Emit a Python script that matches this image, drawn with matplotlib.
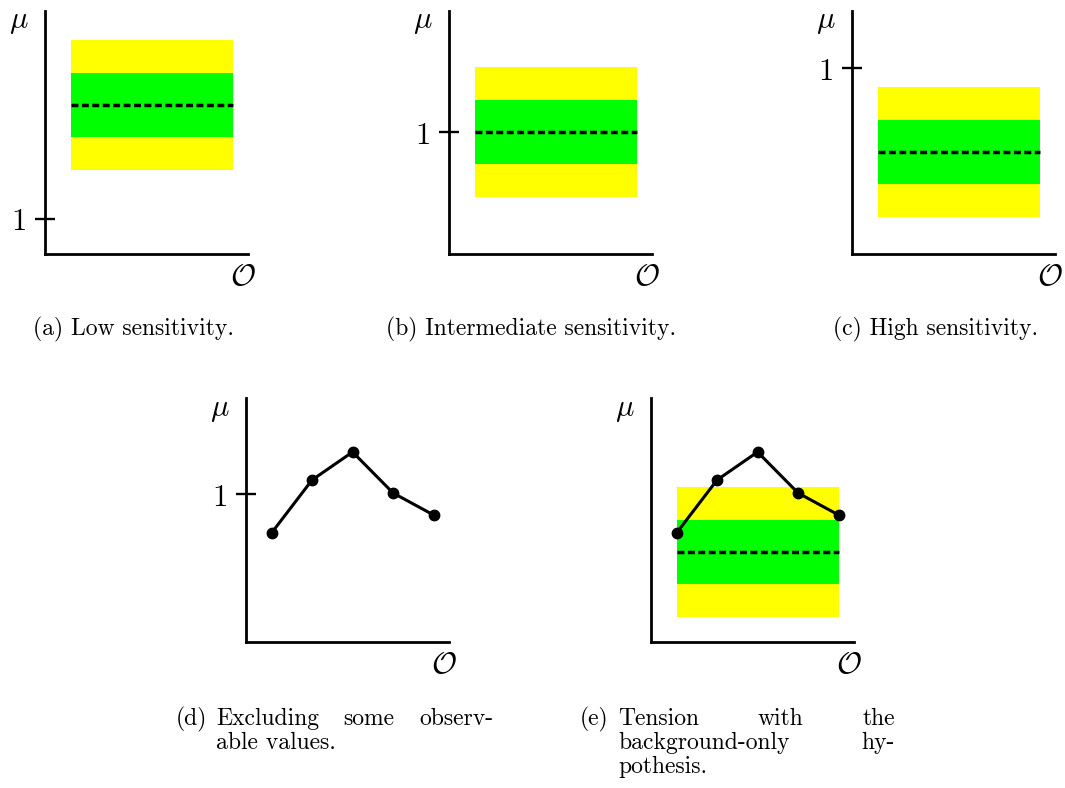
import matplotlib
matplotlib.use('Agg')
import matplotlib.pyplot as plt

plt.rcParams['mathtext.fontset'] = 'cm'

W, H = 1065, 788
PX_PER_UNIT = 200.0  # vertical scale shared by every panel

# observable bins and the expected-limit band (median, 1 sigma, 2 sigma)
obs = [1, 2, 3, 4, 5]
sig1 = 0.16
sig2 = 0.325
median_low = 1.57
median_mid = 1.0
median_high = 0.58
median_tension = 0.71

# observed limit in each bin
observed = [0.805, 1.07, 1.21, 1.005, 0.895]

captions_top = ['(a) Low sensitivity.', '(b) Intermediate sensitivity.', '(c) High sensitivity.']

fig = plt.figure(figsize=(W / 100, H / 100), dpi=100)


def make_axes(left, top, bottom, ylo, show_one=True):
    h = bottom - top
    ax = fig.add_axes([left / W, 1 - bottom / H, 203 / W, h / H])
    ax.set_xlim(0.37, 5.38)
    ax.set_ylim(ylo, ylo + h / PX_PER_UNIT)
    for s in ['top', 'right']:
        ax.spines[s].set_visible(False)
    for s in ['left', 'bottom']:
        ax.spines[s].set_linewidth(2.0)
    ax.set_xticks([])
    if show_one:
        ax.set_yticks([1])
        ax.set_yticklabels(['$1$'])
    else:
        ax.set_yticks([])
    ax.tick_params(axis='y', direction='inout', length=14, width=1.7,
                   labelsize=22, pad=7)
    ax.patch.set_alpha(0)
    ax.annotate(r'$\mu$', xy=(0, 1), xycoords='axes fraction', xytext=(-26, -11),
                textcoords='offset pixels', ha='center', va='center', fontsize=22)
    ax.annotate(r'$\mathcal{O}$', xy=(1, 0), xycoords='axes fraction', xytext=(-5, -23),
                textcoords='offset pixels', ha='center', va='center', fontsize=22)
    return ax


def draw_band(ax, median):
    ax.fill_between([obs[0], obs[-1]], median - sig2, median + sig2, color='#ffff00', lw=0)
    ax.fill_between([obs[0], obs[-1]], median - sig1, median + sig1, color='#00ff00', lw=0)
    ax.plot([obs[0], obs[-1]], [median, median], color='k', lw=2.5, ls=(0, (2.0, 1.0)))


def draw_observed(ax):
    ax.plot(obs, observed, color='k', lw=2.2, marker='o', ms=7.5, clip_on=False)


ax_a = make_axes(45, 11, 254, 0.825)
draw_band(ax_a, median_low)
ax_b = make_axes(449, 11, 254, 0.39)
draw_band(ax_b, median_mid)
ax_c = make_axes(852, 11, 254, 0.07)
draw_band(ax_c, median_high)
ax_d = make_axes(246, 398, 642, 0.26)
draw_observed(ax_d)
ax_e = make_axes(651, 398, 642, 0.26, show_one=False)
draw_band(ax_e, median_tension)
draw_observed(ax_e)

cap_kw = dict(fontfamily='cmr10', fontsize=17, va='baseline', ha='left')

for x, txt in zip([33, 386, 833], captions_top):
    fig.text(x / W, 1 - 335 / H, txt, **cap_kw)

renderer = fig.canvas.get_renderer()


def justify(words, x0, x1, y):
    # spread the words so the line fills x0..x1, like a justified paragraph
    texts = [fig.text(0, 1 - y / H, w, **cap_kw) for w in words]
    widths = [t.get_window_extent(renderer).width for t in texts]
    gap = (x1 - x0 - sum(widths)) / (len(words) - 1)
    x = x0
    for t, w in zip(texts, widths):
        t.set_x(x / W)
        x += w + gap


fig.text(176 / W, 1 - 725 / H, '(d)', **cap_kw)
justify(['Excluding', 'some', 'observ-'], 216, 493, 725)
fig.text(216 / W, 1 - 749 / H, 'able values.', **cap_kw)

fig.text(580 / W, 1 - 725 / H, '(e)', **cap_kw)
justify(['Tension', 'with', 'the'], 618, 895, 725)
justify(['background-only', 'hy-'], 618, 895, 749)
fig.text(618 / W, 1 - 773 / H, 'pothesis.', **cap_kw)

fig.savefig('out.png', dpi=100)
